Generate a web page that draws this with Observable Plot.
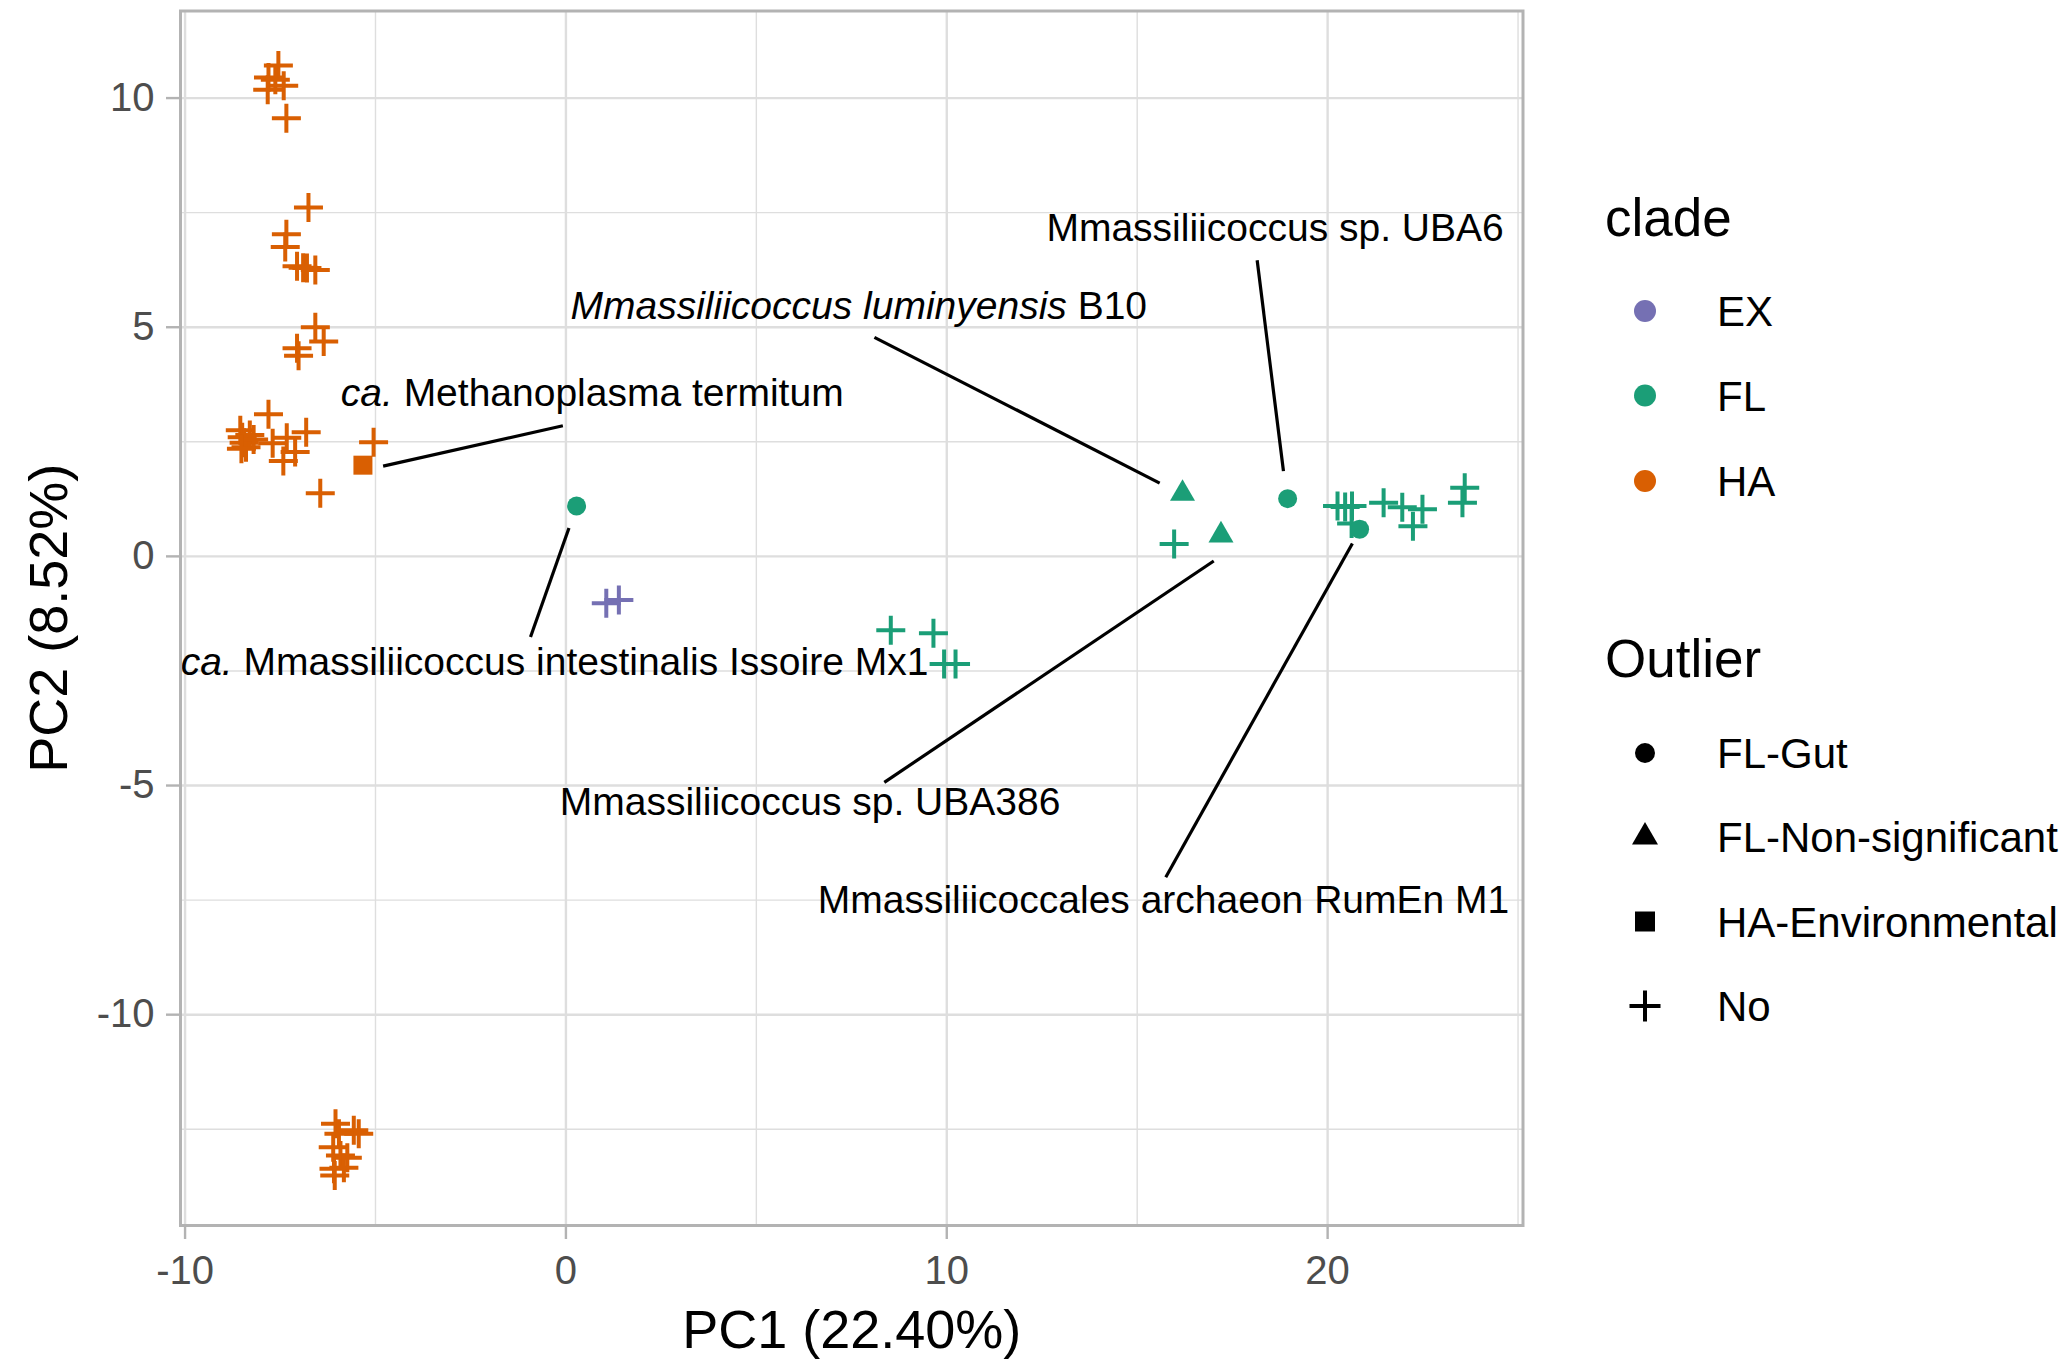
<!DOCTYPE html>
<html><head><meta charset="utf-8">
<script src="https://cdn.jsdelivr.net/npm/d3@7"></script>
<script src="https://cdn.jsdelivr.net/npm/@observablehq/plot@0.6"></script>
<style>
html,body{margin:0;padding:0;background:#fff;}
#wrap{position:relative;width:2067px;height:1361px;overflow:hidden;font-family:"Liberation Sans",Arial,Helvetica,sans-serif;}
#wrap svg{position:absolute;top:0;}
</style></head><body><div id="wrap"></div>
<script>
// ---------- data ----------
const pointX = [
  -7.55,-7.81,-7.63,-7.41,-7.83,-7.34,
  -6.76,-7.34,-7.37,-7.06,-6.90,-6.80,-6.58,
  -6.58,-6.36,-7.06,-7.02,
  -8.55,-8.50,-8.45,-8.40,-8.30,-8.20,-8.52,
  -7.81,-7.70,-7.33,-7.42,-7.11,-6.82,-6.45,-5.05,
  -6.05,-5.57,-5.44,-5.96,-6.11,-5.92,-5.74,-6.09,-5.83,-6.07,
  -5.33,
  1.06,1.39,
  8.53,9.65,9.93,10.23,15.97,
  20.26,20.46,20.64,20.63,21.47,21.96,22.49,22.24,23.60,23.54,
  0.28,18.95,20.84,
  16.19,17.20
];
const pointY = [
  10.71,10.45,10.40,10.27,10.18,9.56,
  7.61,7.03,6.75,6.33,6.30,6.29,6.25,
  5.00,4.69,4.54,4.38,
  2.75,2.60,2.48,2.38,2.65,2.55,2.35,
  3.10,2.47,2.59,2.08,2.28,2.71,1.38,2.49,
  -12.38,-12.52,-12.60,-12.60,-12.89,-13.07,-13.12,-13.36,-13.34,-13.51,
  1.99,
  -1.02,-0.95,
  -1.61,-1.68,-2.35,-2.35,0.27,
  1.10,1.08,1.10,0.72,1.17,1.07,1.03,0.66,1.50,1.17,
  1.10,1.26,0.59,
  1.37,0.46
];
const pointClade = [
  ...Array(42).fill("HA"),
  "HA",
  "EX","EX",
  ...Array(15).fill("FL"),
  "FL","FL","FL",
  "FL","FL"
];
const pointOutlier = [
  ...Array(42).fill("No"),
  "HA-Environmental",
  "No","No",
  ...Array(15).fill("No"),
  "FL-Gut","FL-Gut","FL-Gut",
  "FL-Non-significant","FL-Non-significant"
];

const cladeNames = ["EX", "FL", "HA"];
const cladeColors = ["#7570B3", "#1B9E77", "#D95F02"];
const outlierNames = ["FL-Gut", "FL-Non-significant", "HA-Environmental", "No"];

const xTicks = [-10, 0, 10, 20];
const xMinor = [-5, 5, 15, 25];
const yTicks = [-10, -5, 0, 5, 10];
const yMinor = [-12.5, -7.5, -2.5, 2.5, 7.5];
const xTitle = "PC1 (22.40%)";
const yTitle = "PC2 (8.52%)";

const labelItalic = ["ca.", "Mmassiliicoccus luminyensis", "", "ca.", "", ""];
const labelPlain = [" Methanoplasma termitum", " B10", "Mmassiliicoccus sp. UBA6",
  " Mmassiliicoccus intestinalis Issoire Mx1", "Mmassiliicoccus sp. UBA386", "Mmassiliicoccales archaeon RumEn M1"];
const labelX = [0.69, 7.69, 18.62, -0.30, 6.41, 15.69];
const labelY = [3.51, 5.41, 7.12, -2.35, -5.41, -7.55];
const segX1 = [-4.80, 8.10, 18.15, -0.93, 8.36, 15.75];
const segY1 = [1.97, 4.78, 6.46, -1.76, -4.93, -7.00];
const segX2 = [-0.08, 15.59, 18.84, 0.08, 17.01, 20.65];
const segY2 = [2.85, 1.60, 1.86, 0.62, -0.10, 0.28];

// ---------- tables ----------
const points = pointX.map((x, i) => ({x, y: pointY[i], clade: pointClade[i], outlier: pointOutlier[i]}));
const labels = labelX.map((x, i) => ({x, y: labelY[i], it: labelItalic[i], plain: labelPlain[i],
  x1: segX1[i], y1: segY1[i], x2: segX2[i], y2: segY2[i]}));

// ---------- symbols ----------
const plusSym = {draw(c, size) { const r = Math.sqrt(size / Math.PI); c.moveTo(-r, 0); c.lineTo(r, 0); c.moveTo(0, -r); c.lineTo(0, r); }};
const triSym = {draw(c, size) { const r = Math.sqrt(size / Math.PI); const h = r * Math.sqrt(3);
  c.moveTo(0, -2 * h / 3); c.lineTo(r, h / 3); c.lineTo(-r, h / 3); c.closePath(); }};
const sqSym = {draw(c, size) { const r = Math.sqrt(size / Math.PI); c.rect(-r, -r, 2 * r, 2 * r); }};
const circSym = {draw(c, size) { const r = Math.sqrt(size / Math.PI); c.moveTo(r, 0); c.arc(0, 0, r, 0, 2 * Math.PI); }};

const FONT = '"Liberation Sans", Arial, Helvetica, sans-serif';
const W = 2067, H = 1361;

const svg = Plot.plot({
  width: W, height: H,
  marginLeft: 180, marginRight: W - 1522.5, marginTop: 10.5, marginBottom: H - 1225,
  x: {domain: [-10.12, 25.13]},
  y: {domain: [-14.60, 11.90]},
  color: {domain: cladeNames, range: cladeColors},
  style: {fontFamily: FONT, background: "#fff", overflow: "visible"},
  marks: [
    Plot.ruleX(xMinor, {stroke: "#DEDEDE", strokeWidth: 1.4}),
    Plot.ruleY(yMinor, {stroke: "#DEDEDE", strokeWidth: 1.4}),
    Plot.ruleX(xTicks, {stroke: "#DEDEDE", strokeWidth: 2.4}),
    Plot.ruleY(yTicks, {stroke: "#DEDEDE", strokeWidth: 2.4}),
    Plot.axisX(xTicks, {tickSize: 14, tickPadding: 16, fontSize: 40, fill: "#4D4D4D", stroke: "#B3B3B3", strokeWidth: 2.4, tickFormat: d => String(d), label: null}),
    Plot.axisX([], {tickSize: 0, label: xTitle, labelAnchor: "center", labelOffset: 122, labelArrow: "none", fontSize: 54, fill: "#000"}),
    Plot.axisY(yTicks, {tickSize: 14, tickPadding: 12, fontSize: 40, fill: "#4D4D4D", stroke: "#B3B3B3", strokeWidth: 2.4, tickFormat: d => String(d), label: null}),
    Plot.axisY([], {tickSize: 0, label: yTitle, labelAnchor: "center", labelOffset: 152, labelArrow: "none", fontSize: 54, fill: "#000"}),
    Plot.link(labels, {x1: "x1", y1: "y1", x2: "x2", y2: "y2", stroke: "#000", strokeWidth: 3.2}),
    Plot.dot(points.filter(d => d.outlier === "No"), {x: "x", y: "y", stroke: "clade", fill: "none", symbol: plusSym, r: 14.5, strokeWidth: 4, strokeLinecap: "butt"}),
    Plot.dot(points.filter(d => d.outlier === "FL-Gut"), {x: "x", y: "y", fill: "clade", stroke: "none", symbol: circSym, r: 9.5}),
    Plot.dot(points.filter(d => d.outlier === "FL-Non-significant"), {x: "x", y: "y", fill: "clade", stroke: "none", symbol: triSym, r: 12.5}),
    Plot.dot(points.filter(d => d.outlier === "HA-Environmental"), {x: "x", y: "y", fill: "clade", stroke: "none", symbol: sqSym, r: 9.5}),
    Plot.text(labels, {x: "x", y: "y", text: d => d.it + d.plain, fontSize: 39, fill: "#000", textAnchor: "middle", lineAnchor: "middle", dy: -2}),
    Plot.frame({stroke: "#B3B3B3", strokeWidth: 3, fill: "none"})
  ]
});
svg.style.left = "0px";

// mixed italic / plain label text
const NS = "http://www.w3.org/2000/svg";
svg.querySelectorAll("text").forEach(t => {
  const i = labels.findIndex(d => d.it + d.plain === t.textContent);
  if (i < 0) return;
  const d = labels[i];
  t.setAttribute("xml:space", "preserve");
  t.textContent = "";
  if (d.it) { const a = document.createElementNS(NS, "tspan"); a.setAttribute("font-style", "italic"); a.textContent = d.it; t.appendChild(a); }
  const b = document.createElementNS(NS, "tspan"); b.textContent = d.plain; t.appendChild(b);
});

document.getElementById("wrap").appendChild(svg);

// ---------- legend ----------
const LX = 1560;
const lg = d3.create("svg").attr("width", W - LX).attr("height", H).style("left", LX + "px")
  .style("font-family", FONT);
const symX = 85, txtX = 157, titleX = 45;
lg.append("text").attr("x", titleX).attr("y", 236).attr("font-size", 53).attr("fill", "#000").text("clade");
const cladeRowY = [311, 395.5, 481];
cladeNames.forEach((c, i) => {
  lg.append("path").attr("transform", `translate(${symX},${cladeRowY[i]})`)
    .attr("d", d3.symbol(circSym, Math.PI * 11 * 11)()).attr("fill", cladeColors[i]);
  lg.append("text").attr("x", txtX).attr("y", cladeRowY[i] + 15).attr("font-size", 42).attr("fill", "#000").text(c);
});
lg.append("text").attr("x", titleX).attr("y", 677).attr("font-size", 53).attr("fill", "#000").text("Outlier");
const outRowY = [753, 837, 921.5, 1006];
const outSyms = [[circSym, 10], [triSym, 13], [sqSym, 10], [plusSym, 15.5]];
outlierNames.forEach((o, i) => {
  const [s, r] = outSyms[i];
  const p = lg.append("path").attr("transform", `translate(${symX},${outRowY[i]})`)
    .attr("d", d3.symbol(s, Math.PI * r * r)());
  if (s === plusSym) p.attr("fill", "none").attr("stroke", "#000").attr("stroke-width", 4);
  else p.attr("fill", "#000");
  lg.append("text").attr("x", txtX).attr("y", outRowY[i] + 15).attr("font-size", 42).attr("fill", "#000").text(o);
});
document.getElementById("wrap").appendChild(lg.node());
</script>
</body></html>
